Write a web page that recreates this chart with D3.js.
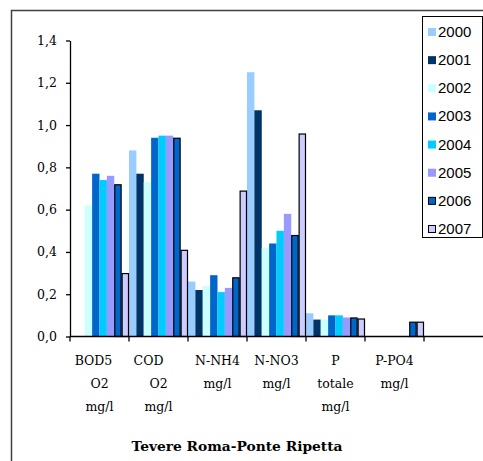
<!DOCTYPE html>
<html>
<head>
<meta charset="utf-8">
<script src="https://cdn.jsdelivr.net/npm/d3@7"></script>
<style>
  body { margin: 0; background: #fff; }
  svg { display: block; }
</style>
</head>
<body>
<script>
// categories (label lines) and years
var categories = ["BOD5 O2 mg/l", "COD O2 mg/l", "N-NH4 mg/l", "N-NO3 mg/l", "P totale mg/l", "P-PO4 mg/l", ""];
var labelLines = [["BOD5", "O2", "mg/l"], ["COD", "O2", "mg/l"], ["N-NH4", "mg/l"], ["N-NO3", "mg/l"], ["P", "totale", "mg/l"], ["P-PO4", "mg/l"], []];
var years = ["2000", "2001", "2002", "2003", "2004", "2005", "2006", "2007"];
var yTicks = [0, 0.2, 0.4, 0.6, 0.8, 1.0, 1.2, 1.4];

// values per year, one per category (null = no bar)
var v2000 = [null, 0.88, 0.26, 1.25, 0.11, null];
var v2001 = [null, 0.77, 0.22, 1.07, 0.08, null];
var v2002 = [0.62, 0.73, 0.24, 0.42, 0.08, null];
var v2003 = [0.77, 0.94, 0.29, 0.44, 0.10, null];
var v2004 = [0.74, 0.95, 0.21, 0.50, 0.10, null];
var v2005 = [0.76, 0.95, 0.23, 0.58, 0.09, null];
var v2006 = [0.72, 0.94, 0.28, 0.48, 0.09, 0.07];
var v2007 = [0.30, 0.41, 0.69, 0.96, 0.085, 0.07];
var series = [v2000, v2001, v2002, v2003, v2004, v2005, v2006, v2007];

var colors = ["#99ccff", "#003366", "#ccffff", "#0066cc", "#00ccff", "#9999ff", "#0066cc", "#ccccff"];
var outlined = [false, false, false, false, false, false, true, true];
// first label line sits a little left of centre in the original
var firstLineShift = [-6, -10, 0, 0, 0, 0, 0];

var W = 483, H = 461;
var serif = "DejaVu Serif, Liberation Serif, serif";
var svg = d3.select("body").append("svg")
  .attr("width", W)
  .attr("height", H);

// outer chart border (runs off the right and bottom)
svg.append("rect")
  .attr("x", 11.5).attr("y", 10.5)
  .attr("width", 490).attr("height", 470)
  .attr("fill", "none")
  .attr("stroke", "#404040")
  .attr("stroke-width", 1.5);

var x0 = d3.scaleBand().domain(d3.range(categories.length)).range([70, 483]).padding(0);
var x1 = d3.scaleBand().domain(d3.range(years.length)).range([0, x0.bandwidth()]).padding(0);
var y = d3.scaleLinear().domain([0, 1.4]).range([336.5, 40.5]);

// bars
var bars = [];
series.forEach(function(vals, si) {
  vals.forEach(function(v, ci) {
    if (v != null) bars.push({ s: si, c: ci, v: v });
  });
});
svg.append("g").selectAll("rect")
  .data(bars)
  .enter()
  .append("rect")
  .attr("x", function(d) { return x0(d.c) + x1(d.s) + (outlined[d.s] ? 0.5 : 0); })
  .attr("y", function(d) { return y(d.v) + (outlined[d.s] ? 0.5 : 0); })
  .attr("width", function(d) { return x1.bandwidth() - (outlined[d.s] ? 1 : 0); })
  .attr("height", function(d) { return y(0) - y(d.v) - (outlined[d.s] ? 0.5 : 0); })
  .attr("fill", function(d) { return colors[d.s]; })
  .attr("stroke", function(d) { return outlined[d.s] ? "#000" : "none"; })
  .attr("stroke-width", 1.2);

// y axis
var yAxis = d3.axisLeft(y)
  .tickValues(yTicks)
  .tickSize(4)
  .tickSizeOuter(0)
  .tickFormat(function(d) { return d3.format(".1f")(d).replace(".", ","); });
var gy = svg.append("g").attr("transform", "translate(70,0)").call(yAxis);
gy.select(".domain").attr("stroke", "#000").attr("stroke-width", 1.3);
gy.selectAll(".tick line").attr("stroke", "#000").attr("stroke-width", 1.3);
gy.selectAll(".tick text")
  .attr("x", -13)
  .attr("font-family", serif)
  .attr("font-size", 12.5)
  .attr("fill", "#000");

// x axis: line plus category boundary ticks
var gx = svg.append("g");
gx.append("line")
  .attr("x1", 70).attr("x2", W)
  .attr("y1", y(0)).attr("y2", y(0))
  .attr("stroke", "#000").attr("stroke-width", 1.3);
gx.selectAll("line.tk")
  .data(d3.range(categories.length))
  .enter()
  .append("line")
  .attr("class", "tk")
  .attr("x1", function(d) { return x0(d); })
  .attr("x2", function(d) { return x0(d); })
  .attr("y1", y(0)).attr("y2", y(0) + 5)
  .attr("stroke", "#000").attr("stroke-width", 1.3);

// category labels
var labelG = gx.selectAll("text.cat")
  .data(labelLines)
  .enter()
  .append("text")
  .attr("class", "cat")
  .attr("text-anchor", "middle")
  .attr("font-family", serif)
  .attr("font-size", 12.5)
  .attr("fill", "#000");
labelG.each(function(lines, ci) {
  var cx = x0(ci) + x0.bandwidth() / 2;
  d3.select(this).selectAll("tspan")
    .data(lines)
    .enter()
    .append("tspan")
    .attr("x", function(d, i) { return cx + (i === 0 ? firstLineShift[ci] : 0); })
    .attr("y", function(d, i) { return 365 + i * 23; })
    .text(function(d) { return d; });
});

// title
svg.append("text")
  .attr("x", 237)
  .attr("y", 451)
  .attr("text-anchor", "middle")
  .attr("font-family", serif)
  .attr("font-weight", "bold")
  .attr("font-size", 13)
  .attr("textLength", 211)
  .attr("lengthAdjust", "spacingAndGlyphs")
  .text("Tevere Roma-Ponte Ripetta");

// legend
var lg = svg.append("g");
lg.append("rect")
  .attr("x", 422.5).attr("y", 16.5)
  .attr("width", 60).attr("height", 221)
  .attr("fill", "#fff")
  .attr("stroke", "#000");
var ly = d3.scalePoint().domain(years).range([32, 229]);
var items = lg.selectAll("g.item")
  .data(years)
  .enter()
  .append("g")
  .attr("class", "item")
  .attr("transform", function(d) { return "translate(0," + ly(d) + ")"; });
items.append("rect")
  .attr("x", function(d, i) { return outlined[i] ? 428.5 : 428; })
  .attr("y", function(d, i) { return outlined[i] ? -3.5 : -4; })
  .attr("width", function(d, i) { return outlined[i] ? 7 : 8; })
  .attr("height", function(d, i) { return outlined[i] ? 7 : 8; })
  .attr("fill", function(d, i) { return colors[i]; })
  .attr("stroke", function(d, i) { return outlined[i] ? "#000" : "none"; });
items.append("text")
  .attr("x", 438)
  .attr("y", 5)
  .attr("font-family", "Liberation Sans, Arial, sans-serif")
  .attr("font-size", 15)
  .attr("fill", "#000")
  .text(function(d) { return d; });
</script>
</body>
</html>
